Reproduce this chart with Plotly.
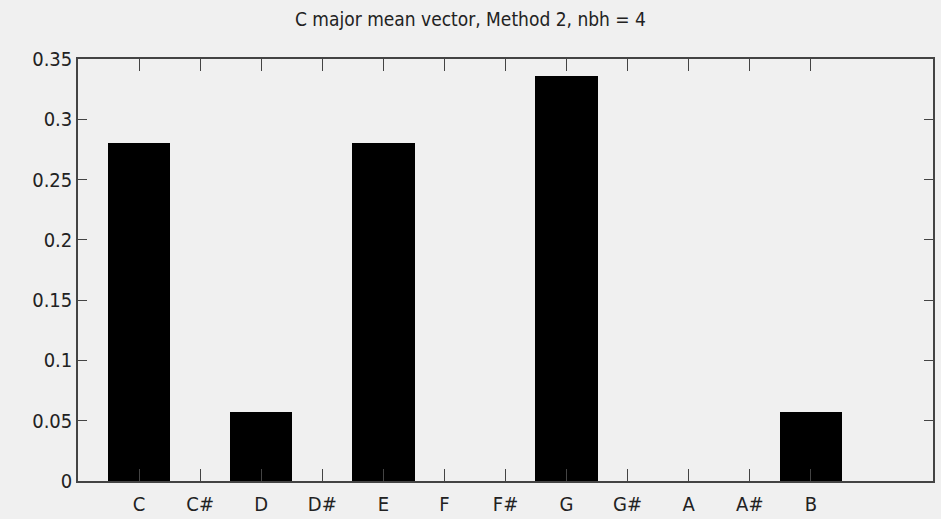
import plotly.graph_objects as go

notes = ["C", "C#", "D", "D#", "E", "F", "F#", "G", "G#", "A", "A#", "B"]
values = [0.28, 0, 0.057, 0, 0.28, 0, 0, 0.336, 0, 0, 0, 0.057]
positions = list(range(1, len(notes) + 1))
y_ticks = [0, 0.05, 0.1, 0.15, 0.2, 0.25, 0.3, 0.35]
y_labels = ["0", "0.05", "0.1", "0.15", "0.2", "0.25", "0.3", "0.35"]
title = "C major mean vector, Method 2, nbh = 4"

FONT = "DejaVu Sans Condensed, Liberation Sans Narrow, sans-serif"
BG = "#f0f0f0"
AX = "#444444"

fig = go.Figure(go.Bar(
    x=positions, y=values, width=1.02,
    marker=dict(color="black", line=dict(width=0)),
))

fig.update_layout(
    width=941, height=519,
    margin=dict(l=78, r=8, t=59, b=38, autoexpand=False),
    paper_bgcolor=BG, plot_bgcolor=BG,
    showlegend=False,
    font=dict(family=FONT, size=20, color="#222"),
    title=dict(text=title, x=0.5, xanchor="center", y=1 - 19 / 519, yanchor="middle",
               font=dict(family=FONT, size=19, color="#222")),
    bargap=0,
)
fig.update_xaxes(
    range=[0, 14], tickvals=positions, ticktext=notes,
    showgrid=False, zeroline=False, automargin=False,
    showline=True, linecolor=AX, linewidth=1.5, mirror="ticks",
    ticks="inside", ticklen=12, tickcolor=AX, tickwidth=1,
    ticklabelstandoff=4,
    tickfont=dict(family=FONT, size=20, color="#222"),
)
fig.update_yaxes(
    range=[0, 0.35], tickvals=y_ticks, ticktext=y_labels,
    showgrid=False, zeroline=False, automargin=False,
    showline=True, linecolor=AX, linewidth=1.5, mirror="ticks",
    ticks="inside", ticklen=9, tickcolor=AX, tickwidth=1,
    tickfont=dict(family=FONT, size=20, color="#222"),
)

fig.write_html("out.html")
